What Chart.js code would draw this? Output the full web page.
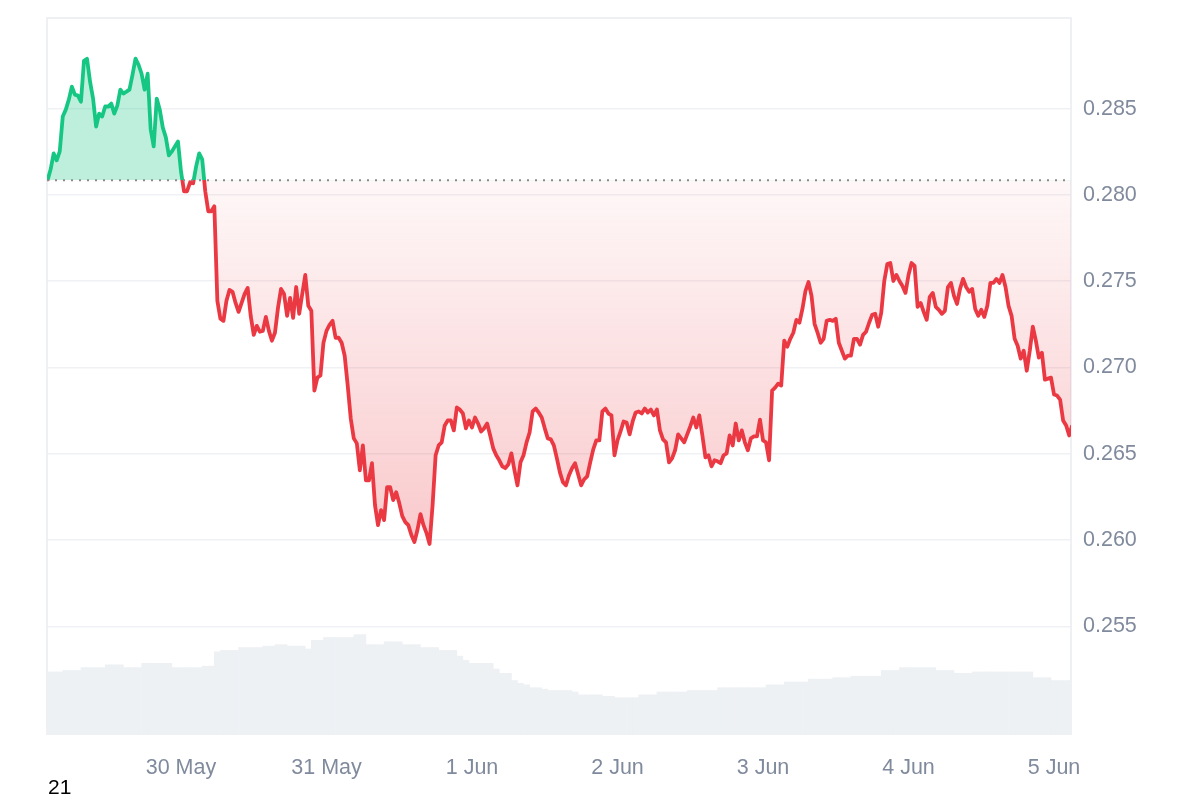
<!DOCTYPE html>
<html>
<head>
<meta charset="utf-8">
<script src="https://cdn.jsdelivr.net/npm/chart.js@4.4.1/dist/chart.umd.min.js"></script>
<style>
    body { margin: 0; background: #fff; }
    #wrap { position: relative; width: 1200px; height: 800px; }
    #note { position: absolute; left: 48px; top: 775px; font: 21px "Liberation Sans", Arial, sans-serif; color: #000; }
</style>
</head>
<body>
<div id="wrap"><canvas id="myChart"></canvas><div id="note">21</div></div>
<script>
    // hours counted from 29 May 00:00; price every 30 min, volume every hour
    const startHour = 2;
    const priceStep = 0.5;
    const volumeStep = 1;
    const baseline = 0.28085;

    const prices = [
        0.28085, 0.28148, 0.28240, 0.28200, 0.28252, 0.28454, 0.28494, 0.28552, 0.28627, 0.28581,
        0.28575, 0.28540, 0.28777, 0.28789, 0.28656, 0.28558, 0.28396, 0.28471, 0.28454, 0.28512,
        0.28512, 0.28529, 0.28471, 0.28517, 0.28610, 0.28587, 0.28598, 0.28610, 0.28696, 0.28789,
        0.28754, 0.28702, 0.28610, 0.28702, 0.28379, 0.28281, 0.28558, 0.28494, 0.28390, 0.28333,
        0.28229, 0.28252, 0.28281, 0.28309, 0.28136, 0.28021, 0.28021, 0.28073, 0.28067, 0.28165,
        0.28240, 0.28206, 0.28021, 0.27905, 0.27905, 0.27934, 0.27386, 0.27282, 0.27270, 0.27386,
        0.27449, 0.27438, 0.27374, 0.27322, 0.27374, 0.27426, 0.27461, 0.27299, 0.27189, 0.27241,
        0.27207, 0.27212, 0.27293, 0.27212, 0.27155, 0.27201, 0.27345, 0.27455, 0.27426, 0.27299,
        0.27403, 0.27287, 0.27466, 0.27311, 0.27426, 0.27536, 0.27357, 0.27328, 0.26866, 0.26941,
        0.26953, 0.27143, 0.27212, 0.27247, 0.27270, 0.27172, 0.27172, 0.27143, 0.27068, 0.26895,
        0.26704, 0.26589, 0.26560, 0.26404, 0.26548, 0.26346, 0.26346, 0.26445, 0.26202, 0.26086,
        0.26173, 0.26115, 0.26306, 0.26306, 0.26231, 0.26277, 0.26214, 0.26138, 0.26104, 0.26086,
        0.26029, 0.25988, 0.26058, 0.26150, 0.26086, 0.26040, 0.25977, 0.26202, 0.26491, 0.26548,
        0.26566, 0.26664, 0.26693, 0.26693, 0.26635, 0.26768, 0.26756, 0.26733, 0.26647, 0.26693,
        0.26652, 0.26710, 0.26675, 0.26629, 0.26647, 0.26675, 0.26606, 0.26531, 0.26491, 0.26462,
        0.26427, 0.26416, 0.26439, 0.26502, 0.26404, 0.26317, 0.26450, 0.26491, 0.26566, 0.26623,
        0.26745, 0.26762, 0.26739, 0.26710, 0.26647, 0.26589, 0.26583, 0.26548, 0.26473, 0.26392,
        0.26335, 0.26317, 0.26375, 0.26416, 0.26445, 0.26381, 0.26317, 0.26352, 0.26369, 0.26450,
        0.26525, 0.26577, 0.26577, 0.26745, 0.26762, 0.26733, 0.26722, 0.26491, 0.26577, 0.26629,
        0.26687, 0.26681, 0.26612, 0.26687, 0.26739, 0.26745, 0.26733, 0.26762, 0.26739, 0.26756,
        0.26722, 0.26756, 0.26635, 0.26583, 0.26566, 0.26450, 0.26473, 0.26520, 0.26612, 0.26589,
        0.26566, 0.26612, 0.26658, 0.26710, 0.26652, 0.26722, 0.26606, 0.26479, 0.26491, 0.26427,
        0.26462, 0.26456, 0.26445, 0.26491, 0.26502, 0.26606, 0.26548, 0.26675, 0.26577, 0.26635,
        0.26566, 0.26520, 0.26589, 0.26600, 0.26600, 0.26698, 0.26577, 0.26566, 0.26462, 0.26866,
        0.26883, 0.26906, 0.26895, 0.27155, 0.27120, 0.27166, 0.27201, 0.27276, 0.27259, 0.27339,
        0.27443, 0.27495, 0.27415, 0.27253, 0.27201, 0.27143, 0.27166, 0.27270, 0.27276, 0.27270,
        0.27282, 0.27143, 0.27097, 0.27051, 0.27068, 0.27068, 0.27166, 0.27166, 0.27132, 0.27189,
        0.27207, 0.27259, 0.27305, 0.27311, 0.27236, 0.27316, 0.27501, 0.27599, 0.27605, 0.27501,
        0.27536, 0.27501, 0.27472, 0.27432, 0.27536, 0.27605, 0.27588, 0.27351, 0.27374, 0.27322,
        0.27276, 0.27409, 0.27432, 0.27351, 0.27334, 0.27311, 0.27328, 0.27466, 0.27490, 0.27415,
        0.27368, 0.27455, 0.27513, 0.27466, 0.27438, 0.27455, 0.27339, 0.27299, 0.27334, 0.27293,
        0.27357, 0.27490, 0.27490, 0.27513, 0.27490, 0.27536, 0.27466, 0.27357, 0.27299, 0.27166,
        0.27126, 0.27051, 0.27097, 0.26981, 0.27097, 0.27236, 0.27155, 0.27057, 0.27085, 0.26929,
        0.26935, 0.26941, 0.26843, 0.26837, 0.26814, 0.26693, 0.26664, 0.26606, 0.26664
    ];

    // volume, arbitrary units (axis 0..500)
    const volumes = [
        44, 44, 44, 45, 45, 45, 47, 47, 47, 47,
        49, 49, 49, 47, 47, 47, 50, 50, 50, 50,
        50, 47, 47, 47, 47, 47, 48, 48, 58, 59,
        59, 59, 61, 61, 61, 61, 62, 62, 63, 63,
        62, 62, 62, 60, 66, 66, 68, 68, 68, 68,
        68, 70, 70, 63, 63, 63, 65, 65, 65, 63,
        63, 63, 61, 61, 61, 59, 59, 59, 55, 52,
        50, 50, 50, 50, 46, 43, 43, 38, 36, 35,
        33, 33, 32, 31, 31, 31, 31, 30, 28, 28,
        28, 28, 27, 27, 26, 26, 26, 26, 28, 28,
        28, 30, 30, 30, 30, 30, 31, 31, 31, 31,
        31, 33, 33, 33, 33, 33, 33, 33, 33, 35,
        35, 35, 37, 37, 37, 37, 39, 39, 39, 39,
        40, 40, 40, 41, 41, 41, 41, 41, 45, 45,
        45, 47, 47, 47, 47, 47, 47, 45, 45, 45,
        43, 43, 43, 44, 44, 44, 44, 44, 44, 44,
        44, 44, 44, 40, 40, 40, 38, 38, 38, 38
    ];

    const xTicks = [24, 48, 72, 96, 120, 144, 168];
    const xTickLabels = ['30 May', '31 May', '1 Jun', '2 Jun', '3 Jun', '4 Jun', '5 Jun'];
    const yTicks = [0.255, 0.260, 0.265, 0.270, 0.275, 0.280, 0.285];

    const GREEN = '#16c784';
    const RED = '#ea3943';
    const FONT = { family: '"Liberation Sans", Arial, sans-serif', size: 21.5 };

    const priceData = prices.map((p, i) => ({ x: startHour + i * priceStep, y: p }));
    const volumeData = volumes.map((v, i) => ({ x: startHour + i * volumeStep, y: v }));

    // line colour switches exactly at the baseline
    function lineColor(c) {
        const chart = c.chart;
        const area = chart.chartArea;
        if (!area) return RED;
        const yb = chart.scales.y.getPixelForValue(baseline);
        const f = Math.min(1, Math.max(0, (yb - area.top) / (area.bottom - area.top)));
        const g = chart.ctx.createLinearGradient(0, area.top, 0, area.bottom);
        g.addColorStop(0, GREEN);
        g.addColorStop(f, GREEN);
        g.addColorStop(f, RED);
        g.addColorStop(1, RED);
        return g;
    }

    // pink fill below the baseline, deeper towards the low
    function belowFill(c) {
        const chart = c.chart;
        if (!chart.chartArea) return 'rgba(234,57,67,0.1)';
        const yb = chart.scales.y.getPixelForValue(baseline);
        const yl = chart.scales.y.getPixelForValue(Math.min(...prices));
        const g = chart.ctx.createLinearGradient(0, yb, 0, yl);
        g.addColorStop(0, 'rgba(234,57,67,0.04)');
        g.addColorStop(1, 'rgba(234,57,67,0.27)');
        return g;
    }

    const framePlugin = {
        id: 'frame',
        beforeDatasetsDraw(chart) {
            const { ctx, chartArea: a } = chart;
            ctx.save();
            ctx.strokeStyle = '#eaecef';
            ctx.lineWidth = 1.5;
            ctx.beginPath();
            ctx.moveTo(a.left, a.bottom);
            ctx.lineTo(a.left, a.top);
            ctx.lineTo(a.right, a.top);
            ctx.lineTo(a.right, a.bottom);
            ctx.stroke();
            ctx.restore();
        }
    };

    const baselinePlugin = {
        id: 'baseline',
        afterDatasetsDraw(chart) {
            const { ctx, chartArea: a } = chart;
            const y = chart.scales.y.getPixelForValue(baseline);
            ctx.save();
            ctx.strokeStyle = '#8b8b8b';
            ctx.lineWidth = 2;
            ctx.setLineDash([2, 6]);
            ctx.beginPath();
            ctx.moveTo(a.left, y);
            ctx.lineTo(a.right, y);
            ctx.stroke();
            ctx.restore();
        }
    };

    const ctx = document.getElementById('myChart').getContext('2d');
    new Chart(ctx, {
        type: 'line',
        data: {
            datasets: [
                {
                    type: 'line',
                    data: priceData,
                    yAxisID: 'y',
                    borderColor: lineColor,
                    backgroundColor: belowFill,
                    borderWidth: 3.8,
                    borderJoinStyle: 'round',
                    pointRadius: 0,
                    tension: 0,
                    fill: { target: { value: baseline }, above: 'rgba(22,199,132,0.28)' },
                    clip: 0,
                    order: 1,
                },
                {
                    type: 'bar',
                    data: volumeData,
                    yAxisID: 'yv',
                    backgroundColor: '#eef1f4',
                    barPercentage: 1,
                    categoryPercentage: 1,
                    borderWidth: 0,
                    clip: 0,
                    order: 2,
                },
            ],
        },
        options: {
            responsive: true,
            maintainAspectRatio: false,
            animation: false,
            layout: { padding: { left: 47, top: 18, right: 0, bottom: 0 } },
            plugins: { legend: { display: false }, tooltip: { enabled: false } },
            scales: {
                x: {
                    type: 'linear',
                    min: 1.9,
                    max: 170.8,
                    offset: false,
                    grid: { display: false, drawTicks: false },
                    border: { display: false },
                    afterBuildTicks: (axis) => { axis.ticks = xTicks.map(v => ({ value: v })); },
                    afterFit: (axis) => { axis.height = 65; axis.paddingLeft = 0; axis.paddingRight = 0; },
                    ticks: {
                        color: '#808a9d',
                        font: FONT,
                        padding: 20,
                        maxRotation: 0,
                        autoSkip: false,
                        callback: (v) => xTickLabels[xTicks.indexOf(v)],
                    },
                },
                y: {
                    position: 'right',
                    min: 0.2487,
                    max: 0.29025,
                    grid: { color: '#eff1f4', lineWidth: 1.5, drawTicks: false },
                    border: { display: false },
                    afterBuildTicks: (axis) => { axis.ticks = yTicks.map(v => ({ value: v })); },
                    afterFit: (axis) => { axis.width = 129; axis.paddingTop = 0; axis.paddingBottom = 0; },
                    ticks: {
                        color: '#808a9d',
                        font: FONT,
                        padding: 12,
                        callback: (v) => v.toFixed(3),
                    },
                },
                yv: {
                    display: false,
                    min: 0,
                    max: 500,
                },
            },
        },
        plugins: [framePlugin, baselinePlugin],
    });
</script>
</body>
</html>
